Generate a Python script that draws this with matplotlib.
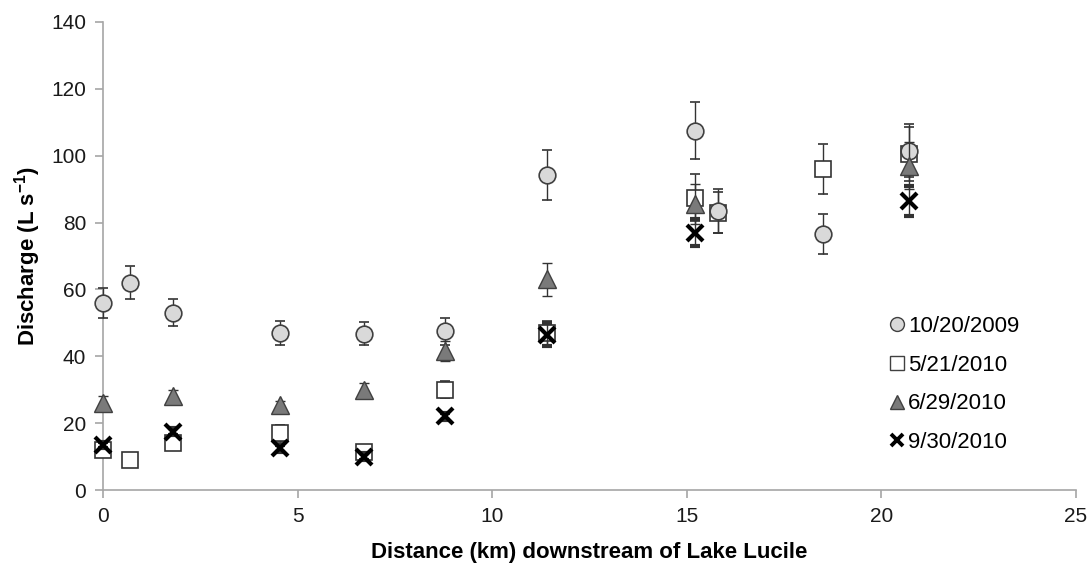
import matplotlib
matplotlib.use("Agg")
import matplotlib.pyplot as plt
from matplotlib.lines import Line2D

plt.rcParams['font.family'] = ['Liberation Sans', 'DejaVu Sans']
plt.rcParams['mathtext.fontset'] = 'custom'
plt.rcParams['mathtext.rm'] = 'Liberation Sans'
plt.rcParams['mathtext.bf'] = 'Liberation Sans:bold'

labels = ['10/20/2009', '5/21/2010', '6/29/2010', '9/30/2010']

x_2009 = [0.0, 0.7, 1.8, 4.55, 6.7, 8.8, 11.4, 15.2, 15.8, 18.5, 20.7]
y_2009 = [56, 62, 53, 47, 46.8, 47.5, 94.3, 107.5, 83.5, 76.5, 101.5]
e_2009 = [4.5, 5, 4, 3.5, 3.5, 4, 7.5, 8.5, 6.5, 6, 8]

x_may = [0.0, 0.7, 1.8, 4.55, 6.7, 8.8, 11.4, 15.2, 15.8, 18.5, 20.7]
y_may = [12, 9, 14, 17, 11.5, 30, 47, 87.5, 83, 96, 100.5]
e_may = [2, 1.2, 2, 2.5, 1, 2.5, 3.5, 7, 6, 7.5, 8]

x_jun = [0.0, 1.8, 4.55, 6.7, 8.8, 11.4, 15.2, 20.7]
y_jun = [26, 28, 25.5, 30, 41.5, 63, 85.5, 97]
e_jun = [2, 2, 1, 2, 3, 5, 6, 7]

x_sep = [0.0, 1.8, 4.55, 6.7, 8.8, 11.4, 15.2, 20.7]
y_sep = [13.5, 17.5, 12.5, 10, 22, 46.5, 77, 86.5]
e_sep = [1, 1, 1, 1, 1, 3.5, 4, 4.5]

fig = plt.figure(figsize=(10.91, 5.67), dpi=100)
ax = fig.add_axes([0.0944, 0.1358, 0.8918, 0.8254])

ebkw = dict(ecolor='#333333', elinewidth=1.0, capsize=3.5, capthick=1.0, linestyle='none')

ax.errorbar(x_may, y_may, yerr=e_may, marker='s', ms=11, mfc='white', mec='#333333',
            mew=1.2, zorder=3, **ebkw)
ax.errorbar(x_2009, y_2009, yerr=e_2009, marker='o', ms=12, mfc='#d9d9d9', mec='#404040',
            mew=1.2, zorder=4, **ebkw)
ax.errorbar(x_jun, y_jun, yerr=e_jun, marker='^', ms=13, mfc='#7a7a7a', mec='#404040',
            mew=1.0, zorder=5, **ebkw)
ax.errorbar(x_sep, y_sep, yerr=e_sep, marker='x', ms=11, mec='black', mew=3.0,
            zorder=6, **ebkw)
for a in list(ax.lines) + list(ax.collections):
    a.set_clip_on(False)

ax.set_xlim(0, 25)
ax.set_ylim(0, 140)
ax.set_xticks([0, 5, 10, 15, 20, 25])
ax.set_yticks(range(0, 141, 20))
ax.tick_params(axis='both', labelsize=15, colors='#a6a6a6', labelcolor='#1a1a1a',
               length=6, width=1.2, direction='out', pad=6)
for side in ['top', 'right']:
    ax.spines[side].set_visible(False)
for side in ['left', 'bottom']:
    ax.spines[side].set_color('#a6a6a6')
    ax.spines[side].set_linewidth(1.2)

ax.set_xlabel('Distance (km) downstream of Lake Lucile', fontsize=16, fontweight='bold', labelpad=12)
ax.set_ylabel(r'Discharge (L s$^{\mathbf{-1}}$)', fontsize=16, fontweight='bold', labelpad=6)

handles = [
    Line2D([], [], marker='o', ms=10, mfc='#d9d9d9', mec='#404040', ls='none'),
    Line2D([], [], marker='s', ms=10, mfc='white', mec='#404040', ls='none'),
    Line2D([], [], marker='^', ms=10, mfc='#7a7a7a', mec='#404040', ls='none'),
    Line2D([], [], marker='x', ms=9, mec='black', mew=2.8, ls='none'),
]
ax.legend(handles, labels, loc='upper left', bbox_to_anchor=(0.807, 0.372), frameon=False,
          fontsize=16, handletextpad=0.1, handlelength=0.8, labelspacing=0.8,
          borderpad=0, borderaxespad=0)

fig.savefig('out.png', dpi=100)
